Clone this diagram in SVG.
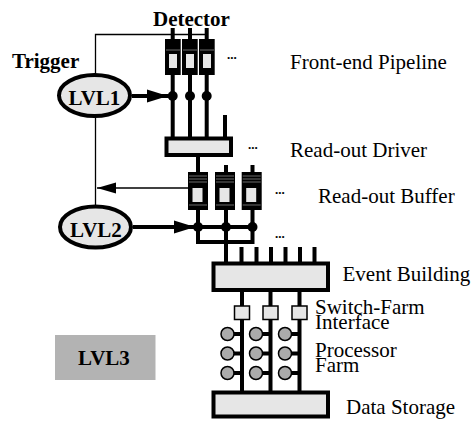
<svg xmlns="http://www.w3.org/2000/svg" width="472" height="421" viewBox="0 0 472 421">
<style>
  .lbl { font-family: "Liberation Serif", "Times New Roman", serif; font-size: 21px; fill: #000; }
  .bld { font-family: "Liberation Serif", "Times New Roman", serif; font-size: 21px; font-weight: bold; fill: #000; }
  .dots { font-family: "Liberation Serif", "Times New Roman", serif; font-size: 13px; font-weight: bold; fill: #000; }
  .thick { stroke: #000; stroke-width: 4; fill: none; }
  .thin { stroke: #000; stroke-width: 1.3; fill: none; }
  .lgbox { fill: #e6e6e6; stroke: #000; stroke-width: 4; }
  .cell { fill: #000; }
  .inner { fill: #e6e6e6; }
  .stripe { stroke: #6a6a6a; stroke-width: 1; }
  .sq { fill: #e6e6e6; stroke: #000; stroke-width: 1.5; }
  .proc { fill: #ababab; stroke: #000; stroke-width: 1.5; }
</style>
<defs>
  <marker id="ahThick" markerUnits="userSpaceOnUse" markerWidth="22" markerHeight="14" refX="21" refY="7" orient="auto">
    <path d="M0,0.5 L21,7 L0,13.5 Z" fill="#000"/>
  </marker>
  <marker id="ahThin" markerUnits="userSpaceOnUse" markerWidth="20" markerHeight="12" refX="19" refY="6" orient="auto">
    <path d="M0,0.5 L19,6 L0,11.5 Z" fill="#000"/>
  </marker>
</defs>
<rect width="472" height="421" fill="#fff"/>

<g id="connectors">
  <!-- trigger feedback thin lines -->
  <path class="thin" d="M207,34.5 H95.5 V75"/>
  <path class="thin" d="M95.5,116 V206"/>
  <path class="thin" d="M188,188 H97" marker-end="url(#ahThin)"/>
  <!-- LVL arrows -->
  <path class="thick" d="M132,96 H168" marker-end="url(#ahThick)"/>
  <path class="thick" d="M133,227 H195" marker-end="url(#ahThick)"/>
  <!-- pipeline columns -->
  <path class="thick" d="M172.7,28 V138 M190,28 V138 M206.7,28 V138"/>
  <path class="thick" d="M225,115 V138"/>
  <!-- driver to buffers -->
  <path class="thick" d="M198,156 V173 M226,165 V173 M252.5,165 V173"/>
  <!-- buffers down -->
  <path class="thick" d="M198,209 V242 H252.5 V209 M226,209 V262 M198,227 H252.5"/>
  <!-- stubs to event building -->
  <path class="thick" d="M241.5,247 V262 M256.5,247 V262 M271,247 V262 M285.5,247 V262 M300,247 V262 M314.5,247 V262"/>
  <!-- event building to storage -->
  <path class="thick" d="M242,291 V392 M270.5,291 V392 M299.5,291 V392"/>
  <!-- processors to lines -->
  <path class="thick" d="M228,334 H242 M228,353.5 H242 M228,373 H242 M256,334 H270.5 M256,353.5 H270.5 M256,373 H270.5 M285,334 H299.5 M285,353.5 H299.5 M285,373 H299.5"/>
</g>

<g id="detector-label"><text class="bld" x="153" y="26">Detector</text></g>
<g id="trigger-label"><text class="bld" x="12" y="68">Trigger</text></g>

<g id="lvl1">
  <ellipse cx="94.5" cy="95.5" rx="35.5" ry="20.5" fill="#e6e6e6" stroke="#000" stroke-width="4"/>
  <text class="bld" x="94.5" y="105" text-anchor="middle">LVL1</text>
</g>
<g id="lvl2">
  <ellipse cx="95.5" cy="227" rx="35.5" ry="20.5" fill="#e6e6e6" stroke="#000" stroke-width="4"/>
  <text class="bld" x="96" y="236.5" text-anchor="middle">LVL2</text>
</g>
<g id="lvl3">
  <rect x="55" y="335" width="100.5" height="45" fill="#b3b3b3"/>
  <text class="bld" x="104" y="365" text-anchor="middle">LVL3</text>
</g>

<g id="front-end-pipeline">
  <rect class="cell" x="165" y="39" width="15.7" height="36"/>
  <rect class="cell" x="182" y="39" width="15.7" height="36"/>
  <rect class="cell" x="199" y="39" width="15.7" height="36"/>
  <path class="stripe" d="M166,50 H180 M183,50 H197 M200,50 H214"/>
  <rect class="inner" x="169" y="54" width="8" height="14"/>
  <rect class="inner" x="186" y="54" width="8" height="14"/>
  <rect class="inner" x="203" y="54" width="8" height="14"/>
  <circle cx="172.7" cy="96" r="5"/>
  <circle cx="190" cy="96" r="5"/>
  <circle cx="206.7" cy="96" r="5"/>
  <text class="dots" x="227" y="59">...</text>
  <text class="lbl" x="290" y="69">Front-end Pipeline</text>
</g>

<g id="read-out-driver">
  <rect class="lgbox" x="166.5" y="138.5" width="64.5" height="16.5"/>
  <text class="dots" x="248" y="149">...</text>
  <text class="lbl" x="290" y="157">Read-out Driver</text>
</g>

<g id="read-out-buffer">
  <rect class="cell" x="188" y="172" width="20" height="38"/>
  <rect class="cell" x="215" y="172" width="20" height="38"/>
  <rect class="cell" x="241.7" y="172" width="20" height="38"/>
  <path class="stripe" d="M189,176 H207 M189,179 H207 M189,182 H207 M189,205 H207 M216,176 H234 M216,179 H234 M216,182 H234 M216,205 H234 M242.7,176 H260.7 M242.7,179 H260.7 M242.7,182 H260.7 M242.7,205 H260.7"/>
  <rect class="inner" x="192.5" y="188" width="10" height="14"/>
  <rect class="inner" x="219.5" y="188" width="10" height="14"/>
  <rect class="inner" x="246.2" y="188" width="10" height="14"/>
  <circle cx="198" cy="227" r="5"/>
  <circle cx="226" cy="227" r="5"/>
  <circle cx="252.5" cy="227" r="5"/>
  <text class="dots" x="275" y="194">...</text>
  <text class="dots" x="275" y="238">...</text>
  <text class="lbl" x="318" y="203">Read-out Buffer</text>
</g>

<g id="event-building">
  <rect class="lgbox" x="213.5" y="263.5" width="114.5" height="26.5"/>
  <text class="lbl" x="342.5" y="281">Event Building</text>
</g>

<g id="switch-farm-interface">
  <rect class="sq" x="234.5" y="306" width="15" height="13.5"/>
  <rect class="sq" x="263" y="306" width="15" height="13.5"/>
  <rect class="sq" x="292" y="306" width="15" height="13.5"/>
  <text class="lbl" x="315" y="314">Switch-Farm</text>
  <text class="lbl" x="315" y="328.5">Interface</text>
</g>

<g id="processor-farm">
  <circle class="proc" cx="227.5" cy="334" r="6.5"/>
  <circle class="proc" cx="227.5" cy="353.5" r="6.5"/>
  <circle class="proc" cx="227.5" cy="373" r="6.5"/>
  <circle class="proc" cx="256" cy="334" r="6.5"/>
  <circle class="proc" cx="256" cy="353.5" r="6.5"/>
  <circle class="proc" cx="256" cy="373" r="6.5"/>
  <circle class="proc" cx="285" cy="334" r="6.5"/>
  <circle class="proc" cx="285" cy="353.5" r="6.5"/>
  <circle class="proc" cx="285" cy="373" r="6.5"/>
  <text class="lbl" x="315" y="356.5">Processor</text>
  <text class="lbl" x="315" y="371.5">Farm</text>
</g>

<g id="data-storage">
  <rect class="lgbox" x="213.5" y="392.5" width="114.5" height="24"/>
  <text class="lbl" x="346" y="414">Data Storage</text>
</g>
</svg>
